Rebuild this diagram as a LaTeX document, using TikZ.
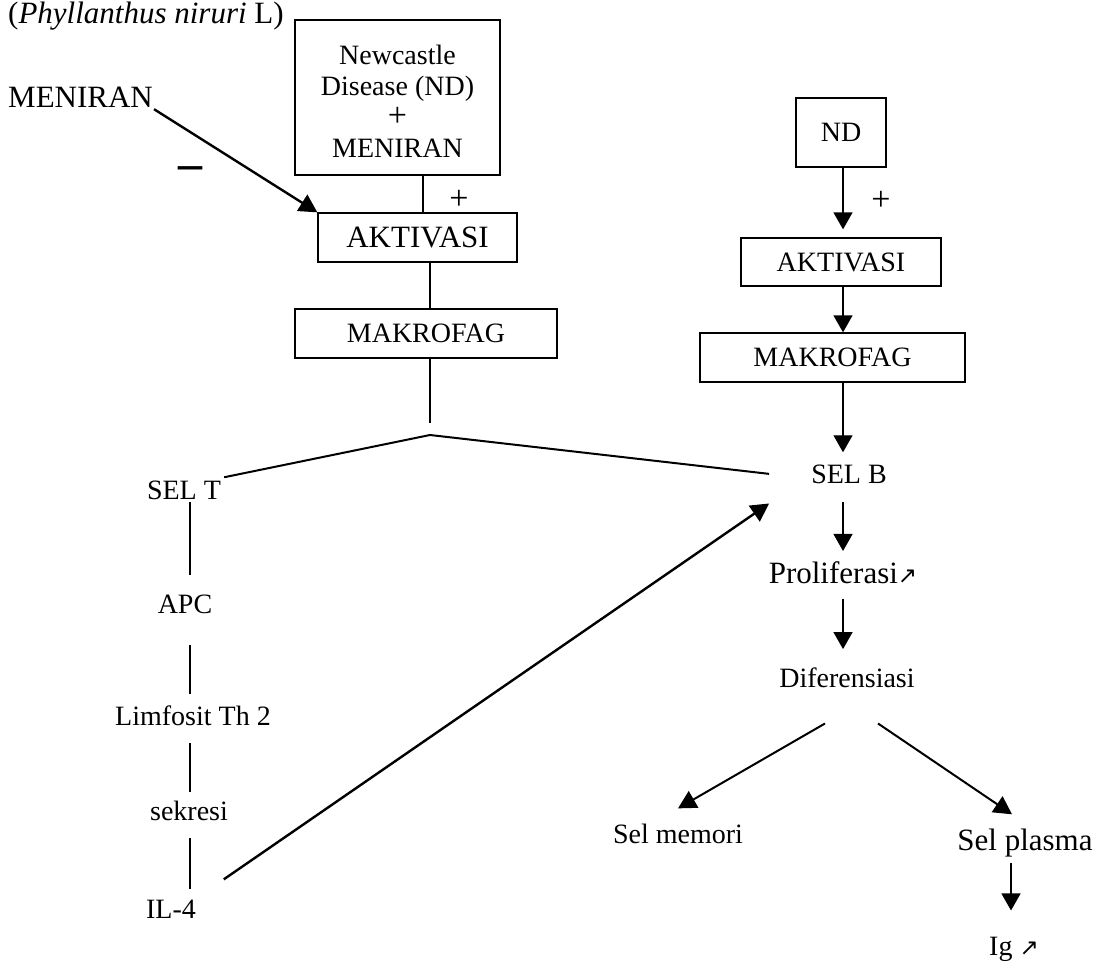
\documentclass[tikz,border=0pt]{standalone}
\usepackage{fontspec}
\setmainfont{Liberation Serif}
\newfontfamily\arrowfont{DejaVu Sans}
\usetikzlibrary{arrows.meta}
\newcommand{\FN}{\fontsize{28}{31}\selectfont}
\newcommand{\FB}{\fontsize{31}{34}\selectfont}
\newcommand{\FP}{\fontsize{34}{31}\selectfont}
\newcommand{\naik}{{\arrowfont\fontsize{23}{23}\selectfont ↗}}

\begin{document}
\begin{tikzpicture}[x=1pt,y=-1pt]
\tikzstyle{texto}=[draw=none,fill=none,black,font=\FN,inner sep=3pt]
\tikzstyle{kotak}=[draw=black,line width=1.3pt,font=\FN,inner sep=0pt]
\tikzstyle{garis}=[black,line width=1.3pt]
\tikzstyle{panah}=[garis,-{Triangle[width=19pt,length=17pt]}]
\tikzstyle{tebal}=[black,line width=2.4pt,-{Triangle[width=19pt,length=18pt]}]

\useasboundingbox (0,0) rectangle (1105,963);

\coordinate (colL) at (190,0);
\coordinate (colR) at (843,0);
\coordinate (colI) at (1011,0);
\coordinate (stem) at (430,423);
\coordinate (apex) at (430,435);

% kiri: ND + meniran
\node[texto,font=\FB,anchor=base west] (latin) at (5,24) {(\textit{Phyllanthus niruri} L)};
\node[texto,font=\FB,anchor=base west,inner sep=1pt] (menL) at (7,108) {MENIRAN};
\node[texto,font=\fontsize{48}{48}\bfseries\selectfont,anchor=base west] (minus) at (175,179) {--};

\node[kotak,align=center,minimum width=205,minimum height=155] (ndmen) at (397.5,97.5)
  {\rule{0pt}{27pt}Newcastle\\Disease (ND)\\{\FP +}\\MENIRAN};
\node[kotak,font=\FB,minimum width=199,minimum height=49] (aktL) at (417.5,237.5) {AKTIVASI};
\node[texto,font=\FP] (plusL) at (459,200) {+};
\node[kotak,minimum width=262,minimum height=49] (makL) at (426,333.5) {MAKROFAG};

\node[texto,anchor=base] (selT) at (184,499) {SEL T};
\node[texto,anchor=base] (apc) at (185,613) {APC};
\node[texto,anchor=base] (lim) at (193,725) {Limfosit Th 2};
\node[texto,anchor=base] (sek) at (189,820) {sekresi};
\node[texto,anchor=base] (il4) at (171,918) {IL-4};

% kanan: ND saja
\node[kotak,minimum width=90,minimum height=69] (ndR) at (841,132.5) {ND};
\node[texto,font=\FP] (plusR) at (881,201) {+};
\node[kotak,minimum width=200,minimum height=48] (aktR) at (841,262) {AKTIVASI};
\node[kotak,minimum width=265,minimum height=49] (makR) at (832.5,357.5) {MAKROFAG};

\node[texto,anchor=base] (selB) at (849,483) {SEL B};
\node[texto,font=\FB,anchor=base] (prol) at (843,583) {Proliferasi\naik};
\node[texto,anchor=base] (dif) at (847,687) {Diferensiasi};
\node[texto,anchor=base] (mem) at (678,843) {Sel memori};
\node[texto,font=\FB,anchor=base] (pla) at (1025,850) {Sel plasma};
\node[texto,anchor=base] (ig) at (1014,955) {Ig \naik};

% garis kiri
\draw[tebal] (menL.south east) -- (aktL.north west);
\draw[garis] ([xshift=25.5]ndmen.south) -- ([xshift=5.5]aktL.north);
\draw[garis] ([xshift=12.5]aktL.south) -- ([xshift=4]makL.north);
\draw[garis] ([xshift=4]makL.south) -- (stem);
\draw[garis,line width=2pt] (selT.north east) -- (apex) -- ([xshift=-39]selB.west);

\draw[garis,shorten >=16] (selT.south -| colL) -- (apc.north -| colL);
\draw[garis,shorten <=29,shorten >=8] (apc.south -| colL) -- (lim.north -| colL);
\draw[garis,shorten <=15,shorten >=5] (lim.south -| colL) -- (sek.north -| colL);
\draw[garis,shorten <=15,shorten >=7] (sek.south -| colL) -- (il4.north -| colL);
\draw[tebal,shorten <=30] (il4.north east) -- ([xshift=-39,yshift=-17]selB.south west);

% panah kanan
\draw[panah,shorten >=8] (ndR.south -| colR) -- (aktR.north -| colR);
\draw[panah] (aktR.south -| colR) -- (makR.north -| colR);
\draw[panah,shorten >=9] (makR.south -| colR) -- (selB.north -| colR);
\draw[panah,shorten <=16,shorten >=7] (selB.south -| colR) -- (prol.north -| colR);
\draw[panah,shorten <=12,shorten >=15] (prol.south -| colR) -- (dif.north -| colR);
\draw[tebal,line width=2pt] ([shift={(-22pt,-33pt)}]dif.south) -- ([yshift=12]mem.north);
\draw[tebal,line width=2pt] ([shift={(31pt,-33pt)}]dif.south) -- ([shift={(-13pt,11pt)}]pla.north);
\draw[panah,shorten <=3,shorten >=23] (pla.south -| colI) -- (ig.north -| colI);
\end{tikzpicture}
\end{document}
